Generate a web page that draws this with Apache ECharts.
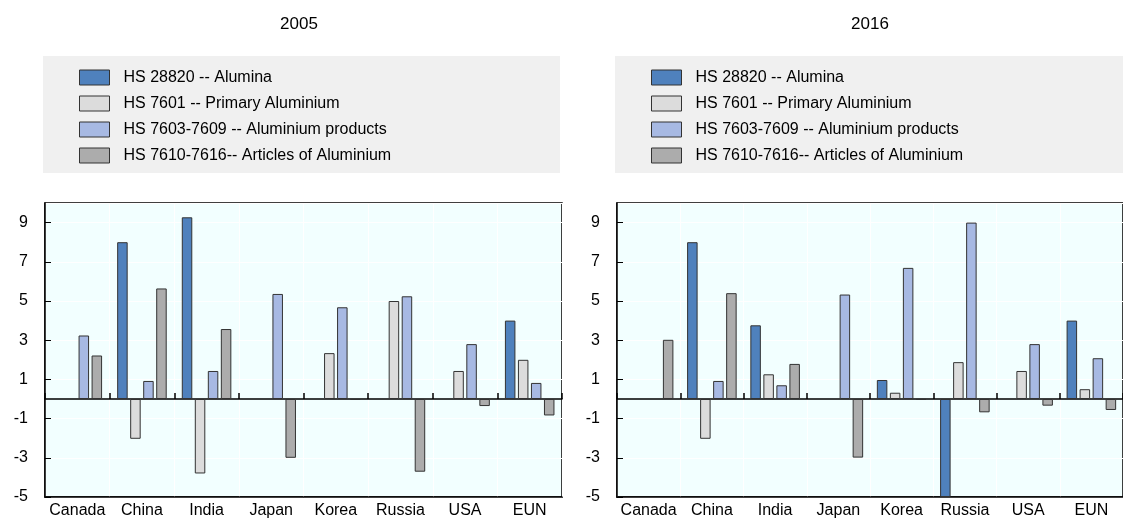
<!DOCTYPE html>
<html>
<head>
<meta charset="utf-8">
<script src="https://cdn.jsdelivr.net/npm/echarts@6/dist/echarts.min.js"></script>
<style>
  html, body { margin: 0; padding: 0; background: #fff; }
  #main { width: 1123px; height: 523px; }
</style>
</head>
<body>
<div id="main"></div>
<script>
// categories and series names
const countries = ['Canada', 'China', 'India', 'Japan', 'Korea', 'Russia', 'USA', 'EUN'];
const seriesNames = [
  'HS 28820 -- Alumina',
  'HS 7601 -- Primary Aluminium',
  'HS 7603-7609 -- Aluminium products',
  'HS 7610-7616-- Articles of Aluminium'
];
const panelTitles = ['2005', '2016'];

// 2005 values
const alumina2005  = [null, 8.0, 9.27, null, null, null, null, 4.0];
const primary2005  = [null, -2.03, -3.8, null, 2.34, 5.0, 1.43, 2.0];
const products2005 = [3.24, 0.92, 1.43, 5.36, 4.68, 5.24, 2.8, 0.82];
const articles2005 = [2.22, 5.64, 3.57, -3.0, -0.05, -3.71, -0.36, -0.84];

// 2016 values
const alumina2016  = [null, 8.0, 3.76, null, 0.97, -5.0, null, 4.0];
const primary2016  = [null, -2.03, 1.26, null, 0.32, 1.88, 1.43, 0.5];
const products2016 = [null, 0.92, 0.7, 5.33, 6.69, 9.0, 2.8, 2.08];
const articles2016 = [3.02, 5.4, 1.79, -2.99, -0.05, -0.68, -0.34, -0.56];

const colors = ['#4f81bd', '#dcdcdc', '#a7b9e3', '#acacac'];
const font = 'Liberation Sans, Arial, sans-serif';

const myChart = echarts.init(document.getElementById('main'));

const grids = [
  { left: 45, top: 203, width: 517, height: 294 },
  { left: 617, top: 203, width: 517, height: 294 }
];

function makeGrid(g) {
  return Object.assign({
    show: true,
    backgroundColor: '#f2ffff',
    borderColor: '#000',
    borderWidth: 1.5
  }, g);
}

let xAxes = [], yAxes = [];
grids.forEach((g, i) => {
  // bottom axis with labels
  xAxes.push({
    type: 'category',
    gridIndex: i,
    data: countries,
    position: 'bottom',
    axisLine: { onZero: false, lineStyle: { color: '#000', width: 1.5 } },
    axisTick: { show: false },
    axisLabel: { color: '#000', fontSize: 16, fontFamily: font, margin: 6, interval: 0 },
    splitLine: { show: true, interval: 0, lineStyle: { color: '#fff', width: 1 } }
  });
  // zero line with small ticks between countries
  xAxes.push({
    type: 'category',
    gridIndex: i,
    data: countries,
    position: 'bottom',
    axisLine: { onZero: true, lineStyle: { color: '#000', width: 1.5 } },
    axisTick: { show: true, inside: true, interval: 0, length: 6, lineStyle: { color: '#000', width: 1.5 } },
    axisLabel: { show: false },
    splitLine: { show: false }
  });
  yAxes.push({
    type: 'value',
    gridIndex: i,
    min: -5,
    max: 10,
    interval: 2,
    axisLine: { show: true, lineStyle: { color: '#000', width: 1.5 } },
    axisTick: { show: true, inside: true, length: 6, lineStyle: { color: '#000' } },
    axisLabel: { color: '#000', fontSize: 16, fontFamily: font, margin: 17, showMaxLabel: false },
    splitLine: { show: true, lineStyle: { color: '#fff', width: 1 } }
  });
});

const panelData = [
  [alumina2005, primary2005, products2005, articles2005],
  [alumina2016, primary2016, products2016, articles2016]
];

let series = [];
panelData.forEach((sets, p) => {
  sets.forEach((vals, k) => {
    series.push({
      name: seriesNames[k],
      type: 'bar',
      xAxisIndex: p * 2,
      yAxisIndex: p,
      data: vals,
      barWidth: 10.5,
      barGap: '24%',
      itemStyle: { color: colors[k], borderColor: '#333', borderWidth: 1 },
      emphasis: { disabled: true },
      z: 3
    });
  });
});

function makeLegend(left) {
  return {
    orient: 'vertical',
    left: left,
    top: 69,
    padding: 0,
    itemWidth: 30,
    itemHeight: 15,
    itemGap: 9,
    selectedMode: false,
    icon: 'rect',
    itemStyle: { borderColor: '#333', borderWidth: 1 },
    textStyle: { color: '#000', fontSize: 16, fontFamily: font, lineHeight: 17, padding: [0, 0, 0, 9] },
    data: seriesNames
  };
}

myChart.setOption({
  animation: false,
  color: colors,
  title: [
    { text: panelTitles[0], left: 299, top: 16, padding: 0, textAlign: 'center',
      textStyle: { fontSize: 17, fontWeight: 'normal', color: '#000', fontFamily: font } },
    { text: panelTitles[1], left: 870, top: 16, padding: 0, textAlign: 'center',
      textStyle: { fontSize: 17, fontWeight: 'normal', color: '#000', fontFamily: font } }
  ],
  graphic: [
    { type: 'rect', left: 43, top: 56, shape: { width: 517, height: 117 }, style: { fill: '#f0f0f0' }, z: -1 },
    { type: 'rect', left: 615, top: 56, shape: { width: 508, height: 117 }, style: { fill: '#f0f0f0' }, z: -1 }
  ],
  legend: [makeLegend(79), makeLegend(651)],
  tooltip: { show: false },
  grid: grids.map(makeGrid),
  xAxis: xAxes,
  yAxis: yAxes,
  series: series
});
</script>
</body>
</html>
